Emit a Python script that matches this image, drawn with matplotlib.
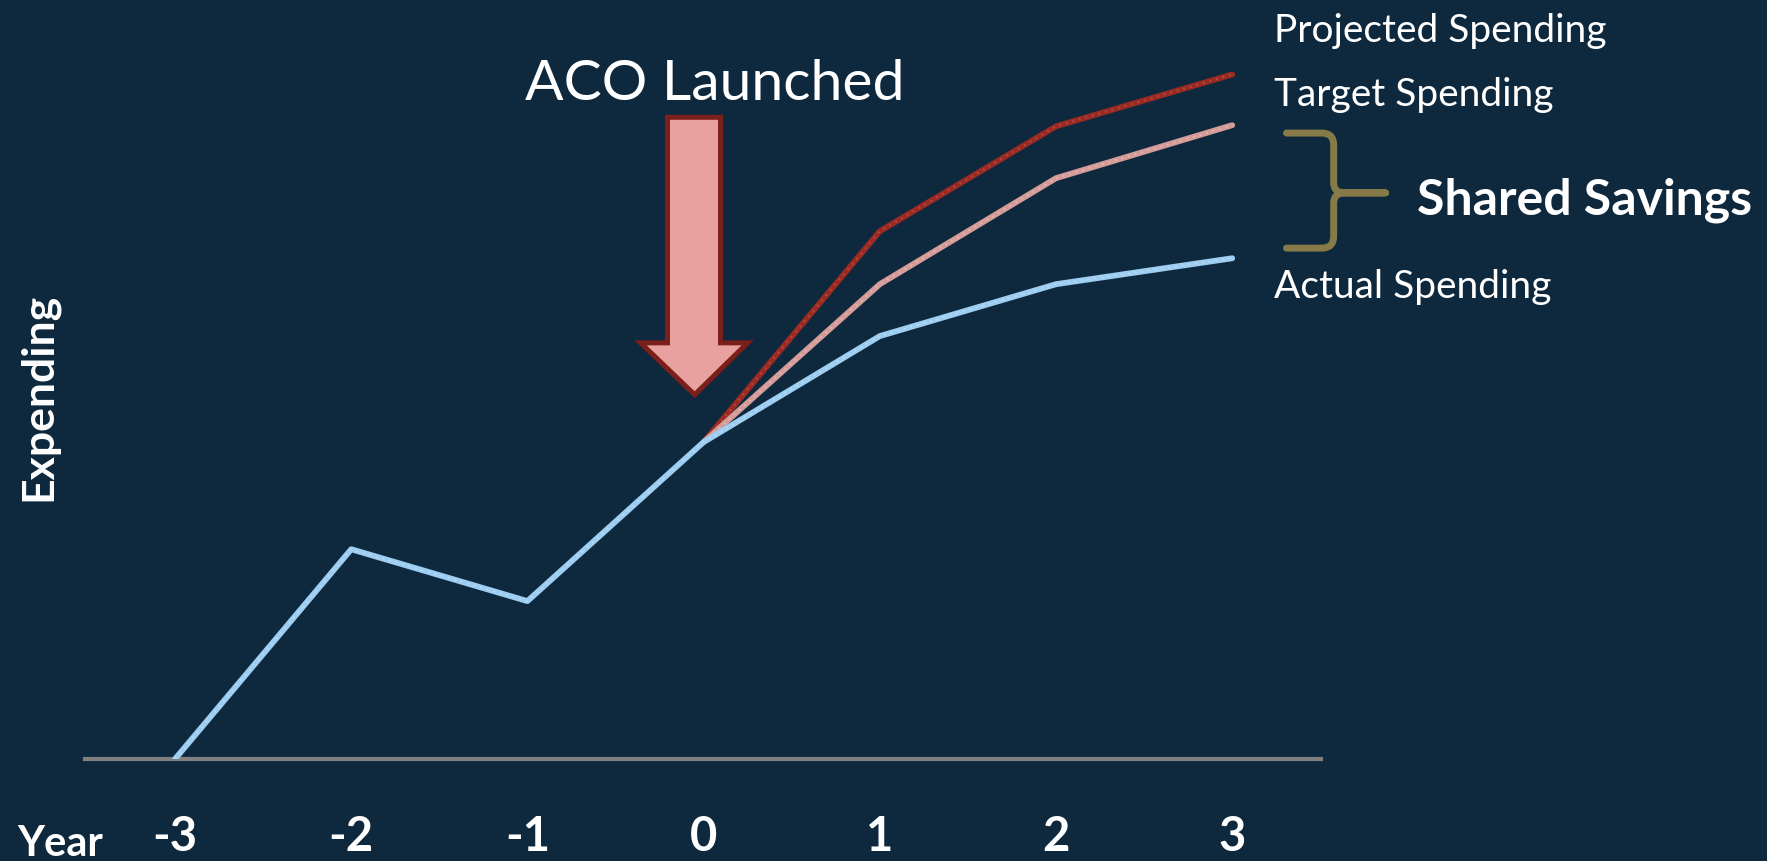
import matplotlib
matplotlib.use("Agg")
import matplotlib.pyplot as plt
from matplotlib.patches import Polygon, PathPatch
from matplotlib.path import Path

# data (spending in arbitrary units above the baseline)
years = [-3, -2, -1, 0, 1, 2, 3]
actual = [0, 186, 140, 281, 375, 421, 444]
proj_years = [0, 1, 2, 3]
target = [281, 421, 515, 562]
projected = [281, 468, 561, 607]
tick_labels = ["-3", "-2", "-1", "0", "1", "2", "3"]

bg = "#0e283d"
plt.rcParams["font.family"] = ["Lato", "DejaVu Sans"]

fig = plt.figure(figsize=(17.67, 8.61), dpi=100, facecolor=bg)
ax = fig.add_axes([85 / 1767, 102 / 861, 1236 / 1767, 759 / 861])
ax.set_facecolor(bg)
ax.set_xlim(-3.511, 3.504)
ax.set_ylim(0, 673)

# lines, each with a faint lighter bead pattern on top like the original
ax.plot(proj_years, projected, color="#9b2a23", lw=4.2, solid_capstyle="round", zorder=3)
ax.plot(proj_years, projected, color="#c0625c", lw=1.4, ls=(0, (1, 2.5)), alpha=0.6, zorder=3.1)
ax.plot(proj_years, target, color="#d49c99", lw=4.2, solid_capstyle="round", zorder=4)
ax.plot(proj_years, target, color="#ecc4c2", lw=1.4, ls=(0, (1, 2.5)), alpha=0.6, zorder=4.1)
ax.plot(years, actual, color="#9dcdf0", lw=4.2, solid_capstyle="round", zorder=5)
ax.plot(years, actual, color="#c6e3f8", lw=1.4, ls=(0, (1, 2.5)), alpha=0.6, zorder=5.1)

for s in ["top", "left", "right"]:
    ax.spines[s].set_visible(False)
ax.spines["bottom"].set_color("#808080")
ax.spines["bottom"].set_linewidth(3)
ax.set_yticks([])
ax.set_xticks(years)
ax.set_xticklabels(tick_labels, fontweight="bold", fontsize=34, color="white")
ax.tick_params(axis="x", length=0, pad=40)

# arrow marking the launch
arrow = [(-0.205, 569), (0.096, 569), (0.096, 369), (0.250, 369),
         (-0.051, 323), (-0.358, 369), (-0.205, 369)]
ax.add_patch(Polygon(arrow, closed=True, facecolor="#e8a19e", edgecolor="#7a1f1a",
                     lw=3.6, joinstyle="miter", zorder=6, clip_on=False))
ax.text(0.065, 584, "ACO Launched", fontsize=41, color="white", ha="center", va="baseline")

# series labels
ax.text(3.24, 636, "Projected Spending", fontsize=28, color="white", va="baseline")
ax.text(3.24, 579, "Target Spending", fontsize=28, color="white", va="baseline")
ax.text(3.24, 409, "Actual Spending", fontsize=28, color="white", va="baseline")

# brace between target and actual
bx0, bx1, bx2 = 3.308, 3.576, 3.87
top, mid, bot = 555, 502, 453
verts, codes = [], []
for end, sgn in [(top, -1), (bot, 1)]:
    verts += [(bx0, end), (bx1 - 0.068, end), (bx1, end), (bx1, end + sgn * 10.6),
              (bx1, mid - sgn * 9), (bx1, mid), (bx1 + 0.06, mid), (bx2, mid)]
    codes += [Path.MOVETO, Path.LINETO, Path.CURVE3, Path.CURVE3,
              Path.LINETO, Path.CURVE3, Path.CURVE3, Path.LINETO]
ax.add_patch(PathPatch(Path(verts, codes), facecolor="none", edgecolor="#857a48",
                       lw=5, capstyle="round", joinstyle="round", clip_on=False))
ax.text(4.05, 483, "Shared Savings", fontsize=36, fontweight="bold", color="white", va="baseline")

fig.text(38 / 1767, 1 - 397 / 861, "Expending", rotation=90, fontsize=32, fontweight="bold",
         color="white", ha="center", va="center")
fig.text(17 / 1767, 1 - 856 / 861, "Year", fontsize=30, fontweight="bold",
         color="white", ha="left", va="baseline")

fig.savefig("out.png", dpi=100, facecolor=bg)
